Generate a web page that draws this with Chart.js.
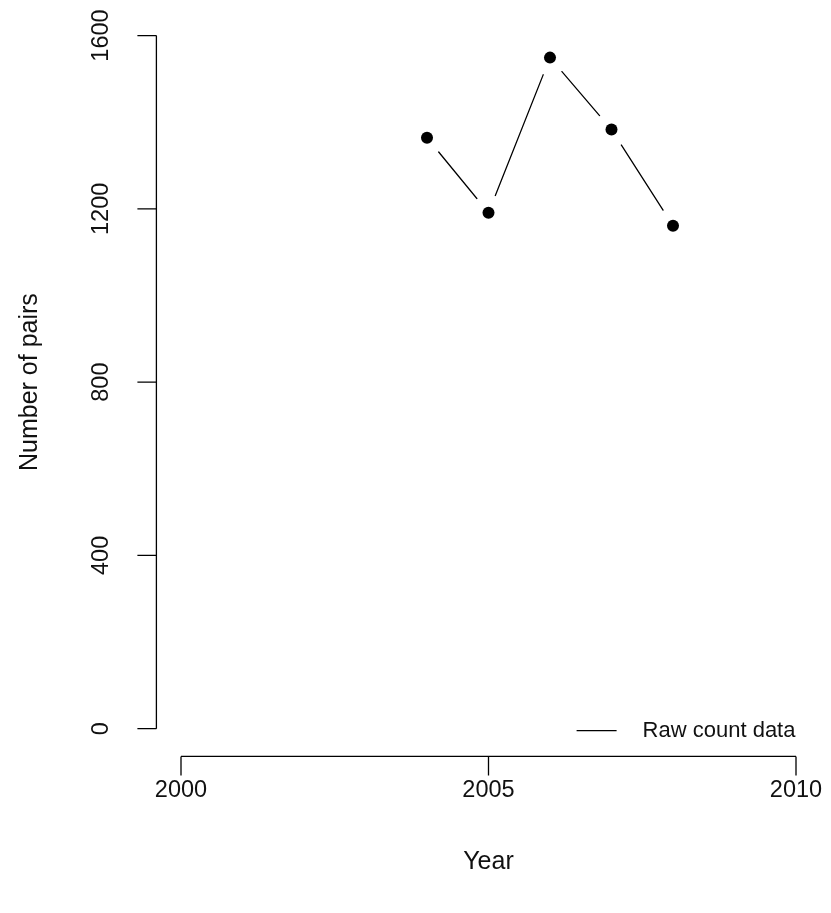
<!DOCTYPE html>
<html>
<head>
<meta charset="utf-8">
<script src="https://cdn.jsdelivr.net/npm/chart.js@4/dist/chart.umd.min.js"></script>
<style>
html,body{margin:0;padding:0;background:#fff;}
#wrap{width:831px;height:913px;position:relative;}
</style>
</head>
<body>
<div id="wrap"><canvas id="c" width="831" height="913"></canvas></div>
<script>
const years = [2004, 2005, 2006, 2007, 2008];
const pairs = [1364, 1191, 1549, 1383, 1161];
const xTicks = [2000, 2005, 2010];
const yTicks = [0, 400, 800, 1200, 1600];
const xTitle = "Year";
const yTitle = "Number of pairs";
const legendLabel = "Raw count data";

const pts = years.map((y, i) => ({x: y, y: pairs[i]}));
const FONT = '"Liberation Sans", Arial, sans-serif';

const rAxes = {
  id: 'rAxes',
  afterDraw(chart) {
    const ctx = chart.ctx;
    const xs = chart.scales.x, ys = chart.scales.y;
    const a = chart.chartArea;
    ctx.save();
    ctx.strokeStyle = '#000';
    ctx.lineWidth = 1.3;
    ctx.fillStyle = '#111';
    // y axis
    const y0 = ys.getPixelForValue(yTicks[0]);
    const y1 = ys.getPixelForValue(yTicks[yTicks.length - 1]);
    ctx.beginPath();
    ctx.moveTo(a.left, y0); ctx.lineTo(a.left, y1);
    yTicks.forEach(v => {
      const p = ys.getPixelForValue(v);
      ctx.moveTo(a.left, p); ctx.lineTo(a.left - 19, p);
    });
    // x axis
    const x0 = xs.getPixelForValue(xTicks[0]);
    const x1 = xs.getPixelForValue(xTicks[xTicks.length - 1]);
    ctx.moveTo(x0, a.bottom); ctx.lineTo(x1, a.bottom);
    xTicks.forEach(v => {
      const p = xs.getPixelForValue(v);
      ctx.moveTo(p, a.bottom); ctx.lineTo(p, a.bottom + 19);
    });
    ctx.stroke();
    // tick labels
    ctx.font = '23.5px ' + FONT;
    ctx.textAlign = 'center';
    ctx.textBaseline = 'middle';
    xTicks.forEach(v => {
      ctx.fillText(String(v), xs.getPixelForValue(v), a.bottom + 34);
    });
    yTicks.forEach(v => {
      const p = ys.getPixelForValue(v);
      ctx.save();
      ctx.translate(a.left - 55, p);
      ctx.rotate(-Math.PI / 2);
      ctx.fillText(String(v), 0, 0);
      ctx.restore();
    });
    // titles
    ctx.font = '25px ' + FONT;
    ctx.fillText(xTitle, (x0 + x1) / 2, a.bottom + 106);
    ctx.save();
    ctx.translate(a.left - 126, (a.top + a.bottom) / 2);
    ctx.rotate(-Math.PI / 2);
    ctx.fillText(yTitle, 0, 0);
    ctx.restore();
    // legend
    ctx.font = '22px ' + FONT;
    const ly = y0 + 2;
    ctx.beginPath();
    ctx.moveTo(a.right - 244, ly); ctx.lineTo(a.right - 204, ly);
    ctx.stroke();
    ctx.textAlign = 'left';
    ctx.fillText(legendLabel, a.right - 178, ly);
    ctx.restore();
  }
};

new Chart(document.getElementById('c'), {
  type: 'scatter',
  data: {
    datasets: [
      {
        data: pts,
        showLine: true,
        borderColor: '#000',
        borderWidth: 1.3,
        pointRadius: 18,
        pointBackgroundColor: '#fff',
        pointBorderWidth: 0,
        pointBorderColor: 'rgba(0,0,0,0)',
        order: 2
      },
      {
        data: pts,
        showLine: false,
        pointRadius: 6,
        pointBackgroundColor: '#000',
        pointBorderColor: '#000',
        pointBorderWidth: 0,
        order: 1
      }
    ]
  },
  options: {
    responsive: false,
    animation: false,
    events: [],
    layout: {autoPadding: false, padding: {left: 156.4, right: 10.4, top: 7.8, bottom: 156.6}},
    plugins: {legend: {display: false}, tooltip: {enabled: false}},
    scales: {
      x: {type: 'linear', min: 1999.6, max: 2010.4, display: false},
      y: {type: 'linear', min: -64, max: 1664, display: false}
    }
  },
  plugins: [rAxes]
});
</script>
</body>
</html>
